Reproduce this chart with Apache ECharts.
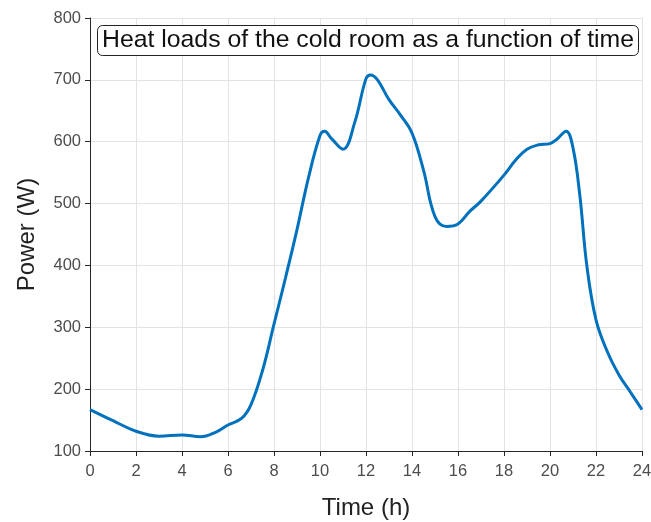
<!DOCTYPE html>
<html>
<head>
<meta charset="utf-8">
<script src="https://cdn.jsdelivr.net/npm/echarts@6/dist/echarts.min.js"></script>
<style>html,body{margin:0;padding:0;background:#fff}#c{width:651px;height:522px}</style>
</head>
<body>
<div id="c"></div>
<script>
const titleText = 'Heat loads of the cold room as a function of time';
const xName = 'Time (h)';
const yName = 'Power (W)';
const hours = [0, 1, 2, 3, 4, 4.8, 5.5, 6, 6.6, 7, 7.5, 8, 8.5, 9, 9.5, 10, 10.2, 10.5, 11, 11.5, 12, 12.2, 12.5, 13, 13.5, 14, 14.5, 15, 15.5, 16, 16.5, 17, 18, 18.5, 19, 19.5, 20, 20.3, 20.7, 21, 21.3, 21.6, 22, 22.5, 23, 23.5, 24];
const power = [167, 149, 132, 124, 126, 123, 131, 142, 153, 175, 230, 305, 380, 458, 542, 610, 617, 605, 588, 630, 702, 708, 700, 668, 643, 614, 554, 479, 463, 467, 487, 504, 546, 570, 588, 595, 597, 604, 617, 590, 512, 400, 312, 260, 223, 195, 167];
const xTicks = [0, 24, 2];
const yTicks = [100, 800, 100];

const chart = echarts.init(document.getElementById('c'), null, {renderer: 'canvas'});
const lbl = {color: '#4d4d4d', fontSize: 16.5, fontFamily: 'Liberation Sans'};
chart.setOption({
  animation: false,
  backgroundColor: '#fff',
  title: {
    text: titleText,
    left: 97, top: 25,
    borderColor: '#222', borderWidth: 1, borderRadius: 5,
    padding: [3, 5, 3, 5],
    backgroundColor: '#fff',
    textStyle: {fontSize: 24.8, lineHeight: 25, fontWeight: 'normal', color: '#111', fontFamily: 'Liberation Sans'}
  },
  grid: {left: 90, right: 9, top: 18, bottom: 71, containLabel: false, outerBoundsMode: 'none'},
  xAxis: {
    type: 'value', min: xTicks[0], max: xTicks[1], interval: xTicks[2],
    name: xName, nameLocation: 'middle', nameGap: 45,
    nameTextStyle: {fontSize: 24, color: '#222', fontFamily: 'Liberation Sans'},
    axisLine: {lineStyle: {color: '#262626', width: 1}},
    axisTick: {inside: false, length: 5, lineStyle: {color: '#262626'}},
    axisLabel: Object.assign({margin: 12}, lbl),
    splitLine: {show: true, lineStyle: {color: '#e3e3e3', width: 1}}
  },
  yAxis: {
    type: 'value', min: yTicks[0], max: yTicks[1], interval: yTicks[2],
    name: yName, nameLocation: 'middle', nameGap: 51,
    nameTextStyle: {fontSize: 24, color: '#222', fontFamily: 'Liberation Sans'},
    axisLine: {show: true, lineStyle: {color: '#262626', width: 1}},
    axisTick: {show: true, inside: false, length: 5, lineStyle: {color: '#262626'}},
    axisLabel: Object.assign({margin: 9}, lbl),
    splitLine: {show: true, lineStyle: {color: '#e3e3e3', width: 1}}
  },
  series: [{
    type: 'line',
    data: hours.map((h, i) => [h, power[i]]),
    smooth: 0.4,
    showSymbol: false,
    lineStyle: {color: '#0072BD', width: 3},
    itemStyle: {color: '#0072BD'}
  }]
});
</script>
</body>
</html>
